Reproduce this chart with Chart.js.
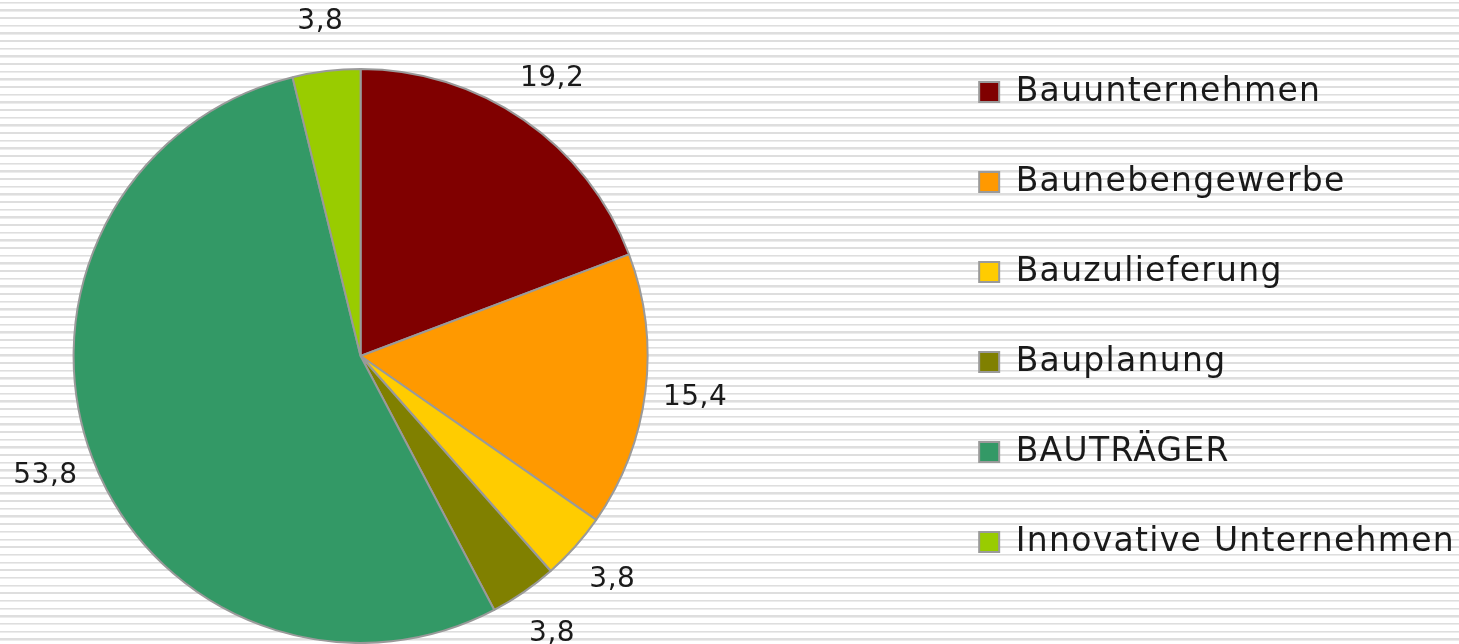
<!DOCTYPE html>
<html>
<head>
<meta charset="utf-8">
<script src="https://cdn.jsdelivr.net/npm/chart.js@4/dist/chart.umd.min.js"></script>
<style>
    html, body {
        margin: 0;
        padding: 0;
        width: 1459px;
        height: 644px;
        overflow: hidden;
        background: repeating-linear-gradient(to bottom,
            #ffffff 0px, #ffffff 1.6px,
            #dedede 1.6px, #dedede 3.2px,
            #ececec 3.2px, #ececec 3.9px,
            #ffffff 3.9px, #ffffff 7.67px);
    }
    canvas { display: block; }
</style>
</head>
<body>
<canvas id="myChart" width="1459" height="644"></canvas>
<script>
const categories = ['Bauunternehmen', 'Baunebengewerbe', 'Bauzulieferung', 'Bauplanung', 'BAUTRÄGER', 'Innovative Unternehmen'];
const shares = [19.2, 15.4, 3.8, 3.8, 53.8, 3.8];
const colors = ['#800000', '#ff9900', '#ffcc00', '#808000', '#339966', '#99cc00'];

const FONT = "'DejaVu Sans', sans-serif";

// canvas text in the original is spaced out a bit
const spacing = {
    id: 'spacing',
    beforeLayout(chart) { chart.ctx.letterSpacing = '1.3px'; },
    beforeDraw(chart) { chart.ctx.letterSpacing = '1.3px'; }
};

// value labels outside each slice
const sliceLabels = {
    id: 'sliceLabels',
    afterDatasetsDraw(chart) {
        const ctx = chart.ctx;
        const meta = chart.getDatasetMeta(0);
        ctx.save();
        ctx.letterSpacing = '0.5px';
        ctx.font = '28px ' + FONT;
        ctx.fillStyle = '#1a1a1a';
        ctx.textAlign = 'center';
        ctx.textBaseline = 'middle';
        meta.data.forEach((arc, i) => {
            const p = arc.getProps(['x', 'y', 'startAngle', 'endAngle', 'outerRadius'], true);
            const mid = (p.startAngle + p.endAngle) / 2;
            const r = p.outerRadius + 50;
            ctx.fillText(String(shares[i]).replace('.', ','), p.x + Math.cos(mid) * r, p.y + Math.sin(mid) * r);
        });
        ctx.restore();
    }
};

const ctx = document.getElementById('myChart').getContext('2d');
new Chart(ctx, {
    type: 'pie',
    data: {
        labels: categories,
        datasets: [{
            data: shares,
            backgroundColor: colors,
            borderColor: '#9a9a9a',
            borderWidth: 2
        }]
    },
    options: {
        responsive: false,
        animation: false,
        layout: {
            padding: {left: 0, right: -6, top: -10, bottom: 0}
        },
        plugins: {
            // empty boxes, only used to push the pie into place
            title: {
                display: true,
                text: '',
                color: 'rgba(0,0,0,0)',
                font: {size: 10, lineHeight: 1},
                padding: {top: 0, bottom: 68}
            },
            subtitle: {
                display: true,
                position: 'right',
                weight: 500,
                text: '',
                color: 'rgba(0,0,0,0)',
                font: {size: 10, lineHeight: 1},
                padding: {top: 0, bottom: 191}
            },
            legend: {
                position: 'right',
                align: 'center',
                maxWidth: 640,
                labels: {
                    color: '#1a1a1a',
                    font: {family: FONT, size: 33},
                    boxWidth: 20,
                    boxHeight: 20,
                    padding: 57
                }
            },
            tooltip: {enabled: false}
        }
    },
    plugins: [spacing, sliceLabels]
});
</script>
</body>
</html>
